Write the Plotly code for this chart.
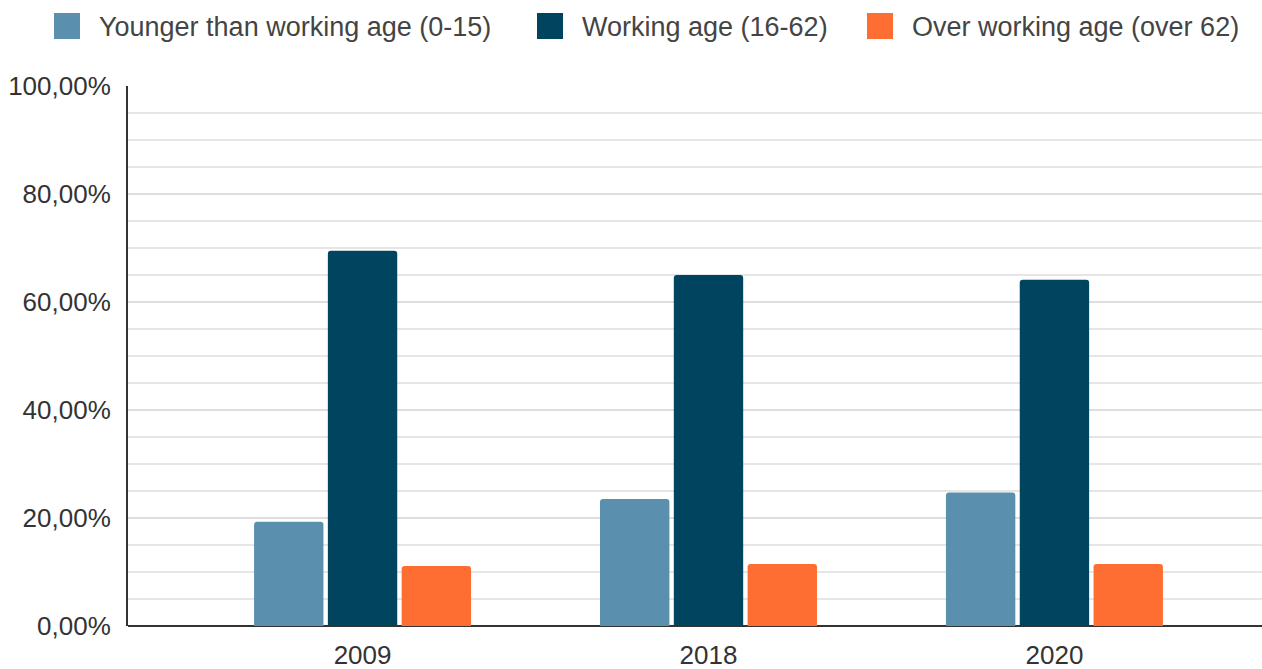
import plotly.graph_objects as go

# Population share by age group
years = ["2009", "2018", "2020"]
series_names = [
    "Younger than working age (0-15)",
    "Working age (16-62)",
    "Over working age (over 62)",
]
young = [19.3, 23.5, 24.7]
working = [69.5, 65.0, 64.1]
older = [11.1, 11.5, 11.5]
colors = ["#5a8fae", "#01445f", "#fe6d31"]

y_tick_vals = [0, 20, 40, 60, 80, 100]
y_tick_text = ["0,00%", "20,00%", "40,00%", "60,00%", "80,00%", "100,00%"]

# Canvas geometry (pixels)
W, H = 1262, 669
L, R, T, B = 128, 0, 86, 43
plot_w = W - L - R
plot_h = H - T - B
FONT = "Liberation Sans, Arial, sans-serif"


def px_x(px):
    return (px - L) / plot_w


def px_y(py):
    return (H - B - py) / plot_h


fig = go.Figure()
for name, vals, col in zip(series_names, [young, working, older], colors):
    fig.add_trace(
        go.Bar(
            x=years,
            y=vals,
            name=name,
            marker=dict(color=col, line=dict(width=0)),
            showlegend=False,
            hovertemplate="%{x}: %{y:.2f}%<extra>" + name + "</extra>",
        )
    )

# Legend drawn as swatches + labels along the top
shapes = []
annotations = []
swatch_left = [54, 537, 867]
for name, col, sx in zip(series_names, colors, swatch_left):
    shapes.append(
        dict(
            type="rect", xref="paper", yref="paper",
            x0=px_x(sx), x1=px_x(sx + 26), y0=px_y(39), y1=px_y(13),
            fillcolor=col, line=dict(width=0), layer="above",
        )
    )
    annotations.append(
        dict(
            text=name, xref="paper", yref="paper",
            x=px_x(sx + 43), y=px_y(27), xanchor="left", yanchor="middle",
            showarrow=False, font=dict(family=FONT, size=27, color="#444444"),
        )
    )

fig.update_layout(
    width=W,
    height=H,
    margin=dict(l=L, r=R, t=T, b=B, pad=0),
    paper_bgcolor="white",
    plot_bgcolor="white",
    barmode="group",
    bargap=0.36,
    bargroupgap=0.06,
    barcornerradius=3,
    shapes=shapes,
    annotations=annotations,
    font=dict(family=FONT, size=26, color="#333333"),
    xaxis=dict(
        type="category",
        range=[-0.678, 2.60],
        showgrid=False,
        showline=False,
        zeroline=False,
        ticks="",
        ticklabelstandoff=11,
        tickfont=dict(family=FONT, size=26, color="#333333"),
    ),
    yaxis=dict(
        range=[0, 100],
        tickvals=y_tick_vals,
        ticktext=y_tick_text,
        showgrid=True,
        gridcolor="#dedede",
        gridwidth=1.5,
        minor=dict(dtick=5, showgrid=True, gridcolor="#e6e6e6", gridwidth=1.5),
        showline=True,
        linecolor="#333333",
        linewidth=2,
        zeroline=True,
        zerolinecolor="#333333",
        zerolinewidth=2,
        ticks="",
        ticklabelstandoff=10,
        tickfont=dict(family=FONT, size=26, color="#333333"),
    ),
)

fig.write_html("out.html")
